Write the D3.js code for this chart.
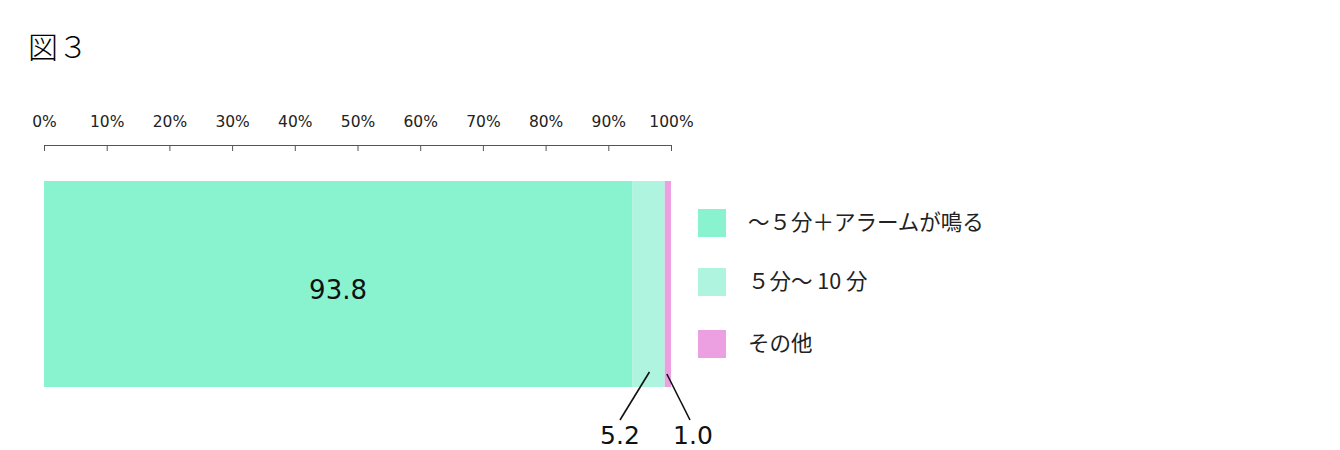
<!DOCTYPE html>
<html><head><meta charset="utf-8">
<script src="https://cdn.jsdelivr.net/npm/d3@7"></script>
<style>body{margin:0;background:#fff}svg{display:block}</style>
</head><body>
<script>
const categories = ["～５分＋アラームが鳴る", "５分～ 10 分", "その他"];
const values = [93.8, 5.2, 1.0];
const valueLabels = ["93.8", "5.2", "1.0"];
const colors = ["#89f3cf", "#aef4df", "#eca0e1"];
const tickValues = [0,10,20,30,40,50,60,70,80,90,100];
const title = "図３";

const W = 1340, H = 450;
const svg = d3.select("body").append("svg").attr("width", W).attr("height", H);
const x = d3.scaleLinear().domain([0, 100]).range([44, 671]);
const y = d3.scaleBand().domain(["all"]).range([181, 387]).padding(0);

svg.append("text").attr("x", 28).attr("y", 58).text(title)
  .attr("font-family", "'Noto Sans CJK JP'").attr("font-weight", 300).attr("font-size", 30).attr("fill", "#000");

// axis
const axis = d3.axisTop(x).tickValues(tickValues).tickSize(-6).tickSizeOuter(0).tickFormat(d => d + "%");
const ag = svg.append("g").attr("transform", "translate(0,145)").call(axis);
ag.select(".domain").attr("stroke", "#555");
ag.selectAll(".tick line").attr("stroke", "#555");
ag.selectAll(".tick text").attr("y", -18).attr("font-family", "'DejaVu Sans'").attr("font-size", 15.5).attr("fill", "#222");

// bars
let cum = 0;
const segs = values.map((v, i) => { const s = {i, v, x0: cum, x1: cum + v}; cum += v; return s; });
svg.selectAll("rect.bar").data(segs).join("rect").attr("class", "bar")
  .attr("x", d => x(d.x0)).attr("width", d => x(d.x1) - x(d.x0))
  .attr("y", y("all")).attr("height", y.bandwidth()).attr("fill", d => colors[d.i]);

// labels
const lf = "'DejaVu Sans'";
svg.append("text").attr("x", (x(segs[0].x0) + x(segs[0].x1)) / 2).attr("y", 299)
  .attr("text-anchor", "middle").attr("font-family", lf).attr("font-size", 26).attr("fill", "#111").text(valueLabels[0]);

const leaders = [
  {i:1, from:[x(segs[1].x0 + segs[1].v*0.5)+1, 372], to:[620, 420], tx:620},
  {i:2, from:[x(segs[2].x0 + segs[2].v*0.5)-1, 374], to:[690, 420], tx:693}
];
leaders.forEach(l => {
  svg.append("line").attr("x1", l.from[0]).attr("y1", l.from[1]).attr("x2", l.to[0]).attr("y2", l.to[1])
    .attr("stroke", "#111").attr("stroke-width", 1.6);
  svg.append("text").attr("x", l.tx).attr("y", 444).attr("text-anchor", "middle")
    .attr("font-family", lf).attr("font-size", 25).attr("fill", "#111").text(valueLabels[l.i]);
});

// legend
const legY = [209, 268, 330];
const lg = svg.append("g");
categories.forEach((c, i) => {
  lg.append("rect").attr("x", 698).attr("y", legY[i]).attr("width", 28).attr("height", 28).attr("fill", colors[i]);
  lg.append("text").attr("x", 748).attr("y", legY[i] + 21).attr("font-family", "'Noto Sans CJK JP'")
    .attr("font-size", 21.5).attr("fill", "#222").text(c);
});
</script>
</body></html>
